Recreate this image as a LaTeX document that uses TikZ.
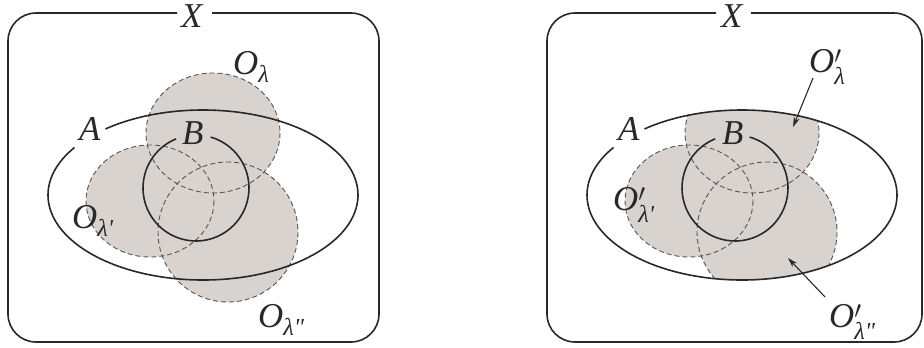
\documentclass[tikz,border=0pt]{standalone}
\usepackage{fontspec}
\usepackage{amsmath}
\setmainfont{Liberation Serif}
\usetikzlibrary{arrows.meta}
\definecolor{regfill}{RGB}{217,211,208}
\definecolor{ink}{RGB}{40,40,40}
\definecolor{dashc}{RGB}{85,85,85}
\tikzset{
 frame/.style={draw=ink, line width=1.6bp, rounded corners=28bp},
 solidline/.style={draw=ink, line width=1.6bp},
 dashline/.style={draw=dashc, line width=0.9bp, dash pattern=on 5bp off 3bp},
 lbl/.style={anchor=base west, inner sep=0pt, text=ink, font=\fontsize{35}{40}\selectfont\itshape},
 ptr/.style={draw=ink, line width=1.1bp, -{Stealth[length=10bp,width=6bp]}},
}
\newcommand{\subl}[1]{$_{\text{\itshape λ#1}}$}
\newcommand{\subpl}[1]{$'_{\text{\itshape λ#1}}$}
\newcommand{\ovals}{%
  (213,133) ellipse [x radius=67, y radius=60]
  (150,201) ellipse [x radius=64, y radius=56]
  (228,232) ellipse [x radius=70, y radius=70]}
\newcommand{\setA}{(203,195) ++(231:155 and 85) arc [start angle=231, end angle=574, x radius=155, y radius=85]}
\newcommand{\setB}{(196,188) ++(286:53 and 53) arc [start angle=286, end angle=608, x radius=53, y radius=53]}
\begin{document}
\begin{tikzpicture}[x=1bp,y=-1bp]
\useasboundingbox (0,0) rectangle (924,347);
% ---------- left panel ----------
\begin{scope}
  \fill[regfill] \ovals;
  \draw[dashline] \ovals;
  \draw[solidline] \setA;
  \draw[solidline] \setB;
  \draw[frame] (212,13) -- (379,13) -- (379,342) -- (8,342) -- (8,13) -- (177,13);
  \node[lbl] (X1) at (181,27) {X};
  \node[lbl] (A1) at (79,140) {A};
  \node[lbl] (B1) at (182,144) {B};
  \node[lbl] (O1) at (233,74) {O\subl{}};
  \node[lbl] (O2) at (72,228) {O\subl{\textquotesingle}};
  \node[lbl] (O3) at (258,327) {O\subl{\textquotedbl}};
\end{scope}
% ---------- right panel ----------
\begin{scope}[xshift=539bp]
  \begin{scope}
    \clip (203,195) ellipse [x radius=155, y radius=85];
    \fill[regfill] \ovals;
    \draw[dashline] \ovals;
  \end{scope}
  \draw[solidline] \setA;
  \draw[solidline] \setB;
  \draw[frame] (212,13) -- (383,13) -- (383,342) -- (8,342) -- (8,13) -- (177,13);
  \node[lbl] (X2) at (182,27) {X};
  \node[lbl] (A2) at (79,140) {A};
  \node[lbl] (B2) at (183,144) {B};
  \node[lbl] (P1) at (270,72) {O\subpl{}};
  \node[lbl] (P2) at (74,210) {O\subpl{\textquotesingle}};
  \node[lbl] (P3) at (290,327) {O\subpl{\textquotedbl}};
  \coordinate (s1) at (274,78);
  \coordinate (t1) at (254,127);
  \coordinate (s2) at (286,297);
  \coordinate (t2) at (249,258);
  \draw[ptr] (s1) -- (t1);
  \draw[ptr] (s2) -- (t2);
\end{scope}
\end{tikzpicture}
\end{document}
